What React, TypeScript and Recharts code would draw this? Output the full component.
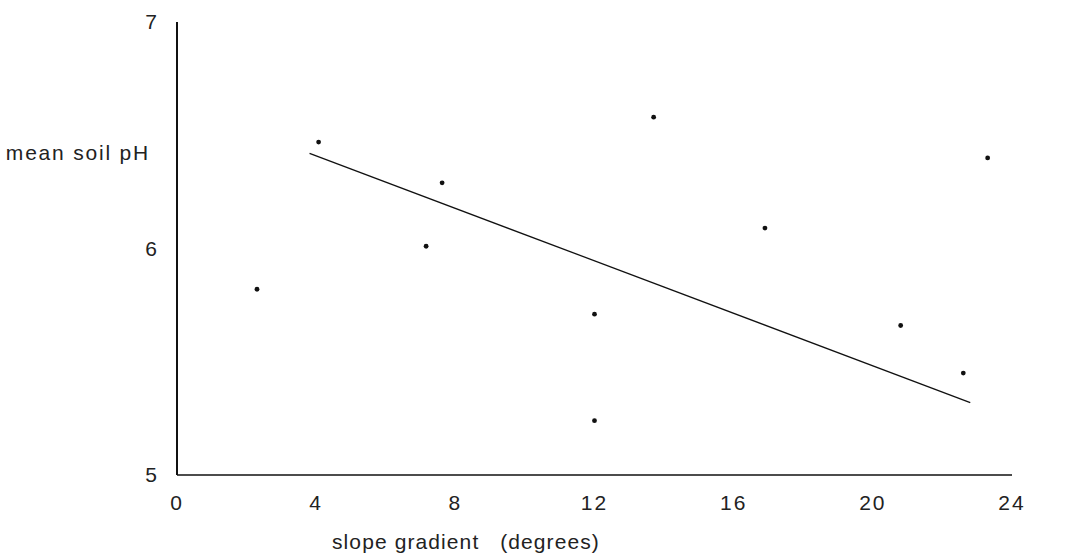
import React from 'react';
import { ScatterChart, Scatter, XAxis, YAxis } from 'recharts';

// slope gradient (degrees) of each site
const slopeDeg = [2.3, 4.07, 7.16, 7.62, 12.0, 12.0, 13.7, 16.9, 20.8, 22.6, 23.3];
// mean soil pH of each site
const soilPh = [5.82, 6.47, 6.01, 6.29, 5.71, 5.24, 6.58, 6.09, 5.66, 5.45, 6.40];
// fitted regression line end points
const fitSlope = [3.81, 22.8];
const fitPh = [6.42, 5.32];
const xTicks = [0, 4, 8, 12, 16, 20, 24];
const yTicks = [5, 6, 7];

const points = slopeDeg.map((x, i) => ({ x, y: soilPh[i] }));
const fit = fitSlope.map((x, i) => ({ x, y: fitPh[i] }));

const font = '"Liberation Sans", Arial, sans-serif';

const Dot = (props: any) => {
  const { cx, cy } = props;
  if (cx == null || cy == null) return null;
  return <circle cx={cx} cy={cy} r={2.4} fill="#111" />;
};

export default function App() {
  return (
    <div style={{ position: 'absolute', left: 0, top: 0, width: 1068, height: 559, background: '#fff', overflow: 'hidden' }}>
      <ScatterChart width={1068} height={559} margin={{ top: 22, right: 56, bottom: 44, left: 117 }}>
        <XAxis
          type="number"
          dataKey="x"
          domain={[0, 24]}
          ticks={xTicks}
          height={40}
          tickLine={false}
          axisLine={{ stroke: '#111', strokeWidth: 1.4 }}
          tick={{ fill: '#222', fontSize: 21, fontFamily: font, letterSpacing: 2 }}
          tickMargin={14}
          interval={0}
          allowDataOverflow
        />
        <YAxis
          type="number"
          dataKey="y"
          domain={[5, 7]}
          ticks={yTicks}
          width={60}
          tickLine={false}
          axisLine={{ stroke: '#111', strokeWidth: 2 }}
          tick={{ fill: '#222', fontSize: 21, fontFamily: font }}
          tickMargin={14}
          interval={0}
          allowDataOverflow
        />
        <Scatter data={points} shape={<Dot />} isAnimationActive={false} />
        <Scatter
          data={fit}
          line={{ stroke: '#111', strokeWidth: 1.3 }}
          shape={() => null}
          isAnimationActive={false}
        />
      </ScatterChart>
      <div style={{ position: 'absolute', right: 1068 - 150, top: 141, fontFamily: font, fontSize: 21, letterSpacing: 1.8, color: '#222', whiteSpace: 'pre' }}>
        mean soil pH
      </div>
      <div style={{ position: 'absolute', left: 332, top: 530, fontFamily: font, fontSize: 21, letterSpacing: 1.1, color: '#222', whiteSpace: 'pre' }}>
        slope gradient   (degrees)
      </div>
    </div>
  );
}
